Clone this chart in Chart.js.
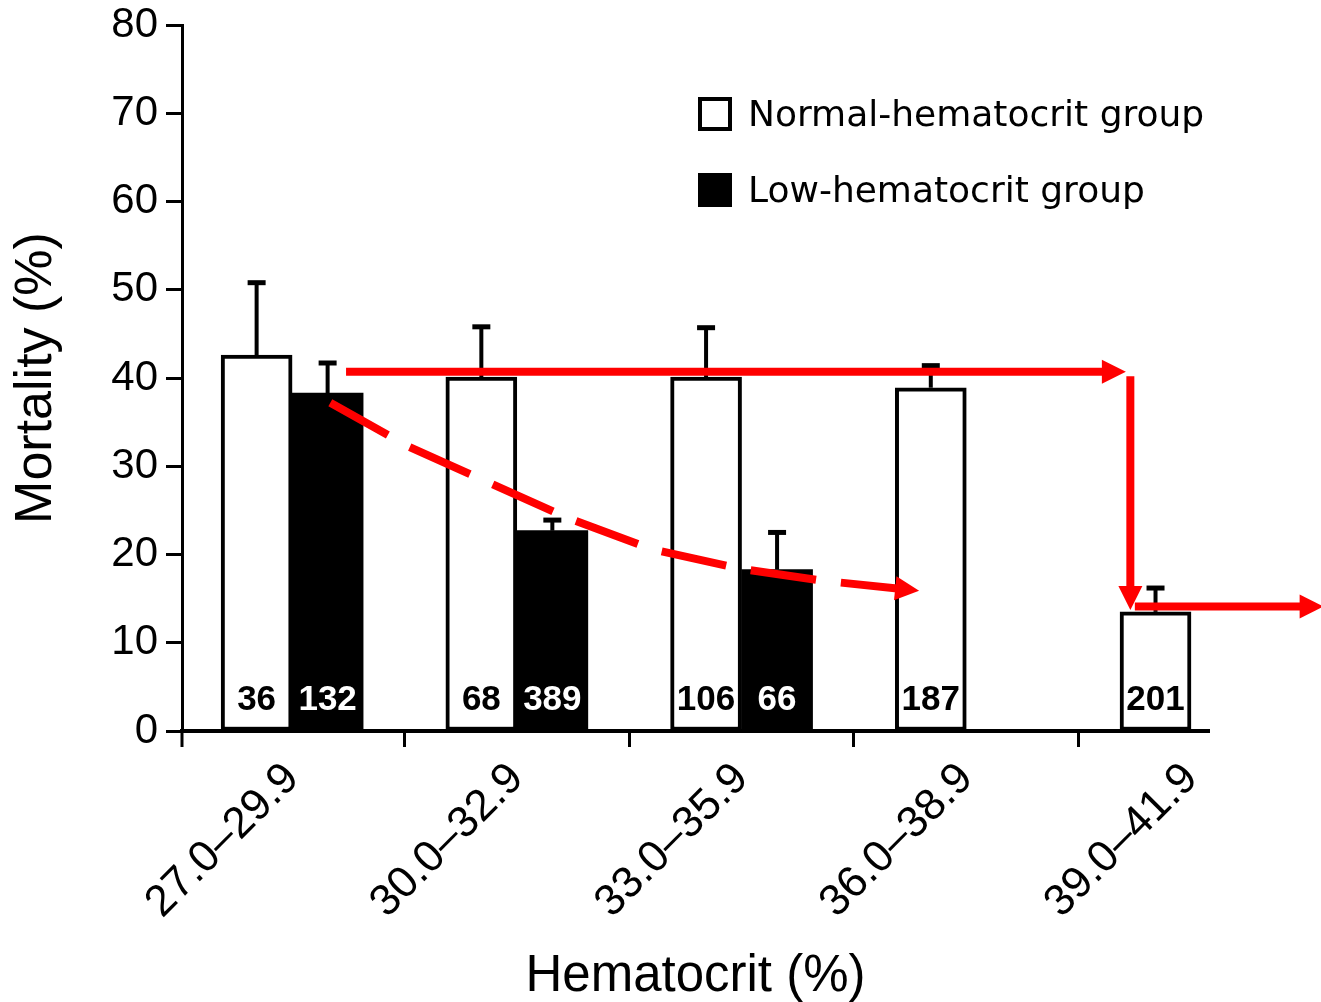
<!DOCTYPE html>
<html lang="en">
<head>
<meta charset="UTF-8">
<title>Mortality by hematocrit</title>
<script src="https://cdn.jsdelivr.net/npm/chart.js"></script>
<style>
  html, body { margin: 0; padding: 0; background: #fff; }
</style>
</head>
<body>
<canvas id="chart" width="1321" height="1002"></canvas>
<script>
// data
const categories = ['27.0–29.9', '30.0–32.9', '33.0–35.9', '36.0–38.9', '39.0–41.9'];
const yTicks = [0, 10, 20, 30, 40, 50, 60, 70, 80];

const normalMortality = [42.6, 40.1, 40.1, 38.9, 13.5];
const normalErrorTop = [50.8, 45.8, 45.7, 41.4, 16.2];
const normalN = [36, 68, 106, 187, 201];

const lowMortality = [38.3, 22.7, 18.3, null, null];
const lowErrorTop = [41.7, 23.9, 22.5, null, null];
const lowN = [132, 389, 66, null, null];

// red hand-drawn arrows, as [category index, mortality %]
const trendCurve = [[0.17, 37.2], [0.52, 32.2], [0.87, 28.2], [1.23, 24.1], [1.60, 20.6], [1.99, 18.4], [2.37, 17.0], [2.79, 15.9]];
const stepAcross = [[0.24, 40.7], [3.71, 40.7]];
const stepDown = [[3.73, 40.2], [3.73, 13.7]];
const stepOut = [[3.75, 14.1], [4.59, 14.1]];

const toPoints = arr => arr.map((v, i) => ({ x: i, y: v }));

function arrow(ctx, x, y, pts, dashed) {
  const px = pts.map(p => [x.getPixelForValue(p[0]), y.getPixelForValue(p[1])]);
  const tip = px[px.length - 1];
  const prev = px[px.length - 2];
  const len = Math.hypot(tip[0] - prev[0], tip[1] - prev[1]);
  const ux = (tip[0] - prev[0]) / len, uy = (tip[1] - prev[1]) / len;
  const headLen = 24, headHalf = 12;
  const base = [tip[0] - ux * headLen, tip[1] - uy * headLen];

  ctx.strokeStyle = '#ff0000';
  ctx.fillStyle = '#ff0000';
  ctx.lineWidth = 8;
  ctx.lineCap = 'butt';
  ctx.setLineDash(dashed ? [66, 25] : []);
  ctx.beginPath();
  ctx.moveTo(px[0][0], px[0][1]);
  for (let i = 1; i < px.length - 1; i++) ctx.lineTo(px[i][0], px[i][1]);
  ctx.lineTo(base[0] + ux * 2, base[1] + uy * 2);
  ctx.stroke();
  ctx.setLineDash([]);

  ctx.beginPath();
  ctx.moveTo(tip[0], tip[1]);
  ctx.lineTo(base[0] - uy * headHalf, base[1] + ux * headHalf);
  ctx.lineTo(base[0] + uy * headHalf, base[1] - ux * headHalf);
  ctx.closePath();
  ctx.fill();
}

const overlay = {
  id: 'overlay',
  afterDatasetsDraw(chart) {
    const { ctx, scales: { x, y } } = chart;
    ctx.save();

    // error bars (upper only)
    [normalErrorTop, lowErrorTop].forEach((tops, d) => {
      const meta = chart.getDatasetMeta(d);
      tops.forEach((top, i) => {
        if (top == null) return;
        const bar = meta.data[i];
        const yTop = y.getPixelForValue(top);
        ctx.strokeStyle = '#000';
        ctx.lineWidth = 4;
        ctx.beginPath();
        ctx.moveTo(bar.x, bar.y);
        ctx.lineTo(bar.x, yTop);
        ctx.stroke();
        ctx.lineWidth = 5;
        ctx.beginPath();
        ctx.moveTo(bar.x - 9, yTop);
        ctx.lineTo(bar.x + 9, yTop);
        ctx.stroke();
      });
    });

    // group sizes inside the bars
    ctx.font = 'bold 35px "Liberation Sans", Arial, sans-serif';
    ctx.textAlign = 'center';
    ctx.textBaseline = 'alphabetic';
    [[normalN, '#000'], [lowN, '#fff']].forEach(([ns, color], d) => {
      const meta = chart.getDatasetMeta(d);
      ns.forEach((n, i) => {
        if (n == null) return;
        ctx.fillStyle = color;
        ctx.fillText(String(n), meta.data[i].x, y.getPixelForValue(0) - 21);
      });
    });

    // axis origin tick below the x axis
    ctx.strokeStyle = '#000';
    ctx.lineWidth = 3;
    ctx.beginPath();
    ctx.moveTo(x.left, y.bottom);
    ctx.lineTo(x.left, y.bottom + 16);
    ctx.stroke();

    // red arrows
    arrow(ctx, x, y, trendCurve, true);
    arrow(ctx, x, y, stepAcross, false);
    arrow(ctx, x, y, stepDown, false);
    arrow(ctx, x, y, stepOut, false);

    ctx.restore();
  },
  afterDraw(chart) {
    const { ctx } = chart;
    ctx.save();
    ctx.font = '36px "DejaVu Sans", sans-serif';
    ctx.textAlign = 'left';
    ctx.textBaseline = 'middle';
    chart.data.datasets.forEach((ds, i) => {
      const top = 97 + i * 76;
      ctx.fillStyle = ds.backgroundColor;
      ctx.fillRect(698, top, 34, 34);
      ctx.strokeStyle = '#000';
      ctx.lineWidth = 4;
      ctx.strokeRect(700, top + 2, 30, 30);
      ctx.fillStyle = '#000';
      ctx.fillText(ds.label, 748, top + 20);
    });
    ctx.restore();
  }
};

Chart.defaults.font.family = '"Liberation Sans", Arial, sans-serif';
Chart.defaults.color = '#000';

new Chart(document.getElementById('chart'), {
  type: 'bar',
  data: {
    datasets: [
      {
        label: 'Normal-hematocrit group',
        data: toPoints(normalMortality),
        backgroundColor: '#ffffff',
        borderColor: '#000000',
        borderWidth: 4,
        borderSkipped: false,
        barThickness: 71
      },
      {
        label: 'Low-hematocrit group',
        data: toPoints(lowMortality),
        backgroundColor: '#000000',
        borderColor: '#000000',
        borderWidth: 0,
        barThickness: 71
      }
    ]
  },
  options: {
    responsive: false,
    animation: false,
    layout: { padding: { top: 25, right: 112, bottom: 0, left: 0 } },
    plugins: {
      legend: { display: false },
      tooltip: { enabled: false }
    },
    scales: {
      x: {
        type: 'linear',
        min: -0.49,
        max: 4.08,
        offset: false,
        afterBuildTicks: s => { s.ticks = categories.map((c, i) => ({ value: i })); },
        afterFit: s => { s.height = 271; },
        ticks: {
          autoSkip: false,
          minRotation: 45,
          maxRotation: 45,
          padding: 6,
          font: { size: 44 },
          callback: v => categories[v]
        },
        grid: { offset: true, drawOnChartArea: false, tickLength: 16, tickWidth: 3, tickColor: '#000' },
        border: { display: true, color: '#000', width: 4 },
        title: {
          display: true,
          text: 'Hematocrit (%)',
          font: { size: 51, lineHeight: 1 },
          padding: { top: 0, bottom: 0 }
        }
      },
      y: {
        min: 0,
        max: 80,
        afterBuildTicks: s => { s.ticks = yTicks.map(v => ({ value: v })); },
        afterFit: s => { s.width = 182; s.paddingTop = 0; s.paddingBottom = 0; },
        ticks: { padding: 8, font: { size: 42 } },
        grid: { drawOnChartArea: false, tickLength: 16, tickWidth: 3, tickColor: '#000' },
        border: { color: '#000', width: 3 },
        title: {
          display: true,
          text: 'Mortality (%)',
          font: { size: 52, lineHeight: 1 },
          padding: { top: 11, bottom: 0 }
        }
      }
    }
  },
  plugins: [overlay]
});
</script>
</body>
</html>
